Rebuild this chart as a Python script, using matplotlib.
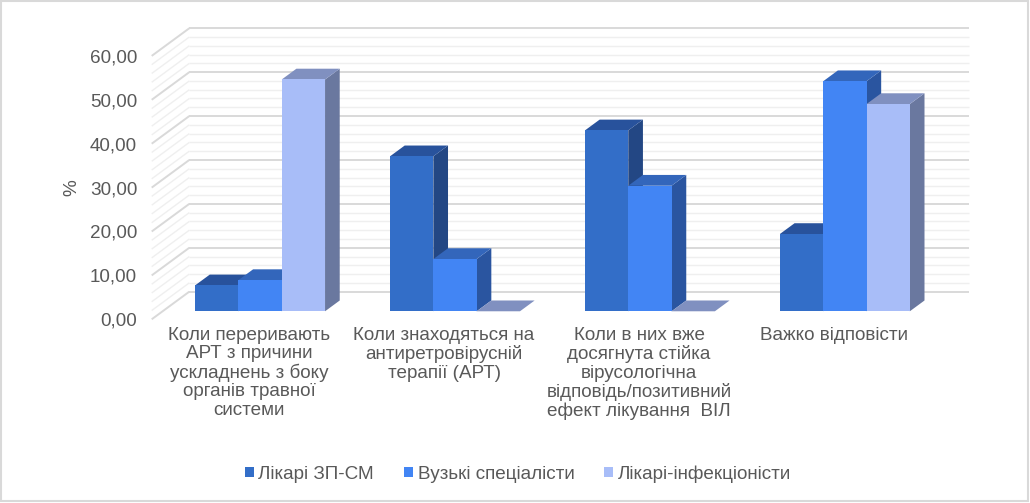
import matplotlib
matplotlib.use("Agg")
import matplotlib.pyplot as plt
from matplotlib.patches import Polygon, Rectangle, Patch

plt.rcParams['font.family'] = ['Liberation Sans', 'DejaVu Sans']

categories = [
    "Коли переривають\nАРТ з причини\nускладнень з боку\nорганів травної\nсистеми",
    "Коли знаходяться на\nантиретровірусній\nтерапії (АРТ)",
    "Коли в них вже\nдосягнута стійка\nвірусологічна\nвідповідь/позитивний\nефект лікування  ВІЛ",
    "Важко відповісти",
]
series_names = ["Лікарі ЗП-СМ", "Вузькі спеціалісти", "Лікарі-інфекціоністи"]
likari_zp = [5.9, 35.3, 41.2, 17.6]
vuzki = [7.1, 11.9, 28.6, 52.4]
infekcionisty = [52.8, 0.0, 0.0, 47.2]
y_ticks = [0, 10, 20, 30, 40, 50, 60]

series = [likari_zp, vuzki, infekcionisty]
front_cols = ["#336ec8", "#4285f4", "#a8bdf8"]
top_cols = ["#28529c", "#3366bb", "#8090c0"]
side_cols = ["#234784", "#2a55a0", "#6a789f"]

TXT = "#595959"
FS = 13.6

W, H = 1030, 503
fig = plt.figure(figsize=(W / 100, H / 100), dpi=100)
# axes = front edge of the floor
x0p, x1p = 151.7, 931.4
yb, yt = 319.3, 55.9
ax = fig.add_axes([x0p / W, (H - yb) / H, (x1p - x0p) / W, (yb - yt) / H])
ax.set_xlim(-0.5, len(categories) - 0.5)
ax.set_ylim(0, 60)
for s in ax.spines.values():
    s.set_visible(False)

# depth of the floor (data units) and bar depth fractions
DX, DY = 0.193, 6.3
F0, F1 = 0.29, 0.68
ymax = 60
xl, xr = -0.5, len(categories) - 0.5

# gridlines: back wall + left wall diagonals
for v in range(0, ymax + 1, 2):
    major = (v % 10 == 0)
    col = "#d9d9d9" if major else "#efefef"
    lw = 1.4 if major else 1.0
    z = 1.2 if major else 1.0
    ax.plot([xl + DX, xr + DX], [v + DY, v + DY], color=col, lw=lw,
            clip_on=False, zorder=z, solid_capstyle='butt')
    ax.plot([xl, xl + DX], [v, v + DY], color=col, lw=lw,
            clip_on=False, zorder=z, solid_capstyle='butt')

# bars
n = len(series)
w = 1.0 / (n + 1.5)
ddx, ddy = (F1 - F0) * DX, (F1 - F0) * DY
base = F0 * DY
z = 3
for i in range(len(categories)):
    for j in range(n):
        v = series[j][i]
        x = i - n * w / 2 + j * w + F0 * DX
        side = Polygon([(x + w, base), (x + w + ddx, base + ddy),
                        (x + w + ddx, base + v + ddy), (x + w, base + v)],
                       closed=True, facecolor=side_cols[j], lw=0,
                       clip_on=False, zorder=z)
        top = Polygon([(x, base + v), (x + w, base + v),
                       (x + w + ddx, base + v + ddy), (x + ddx, base + v + ddy)],
                      closed=True, facecolor=top_cols[j], lw=0,
                      clip_on=False, zorder=z + 0.1)
        ax.add_patch(side)
        ax.add_patch(top)
        bars = ax.bar(x, v, width=w, bottom=base, align='edge',
                      color=front_cols[j], lw=0, zorder=z + 0.2)
        for b in bars:
            b.set_clip_on(False)
        z += 1

# ticks
ax.set_yticks(y_ticks)
ax.set_yticklabels([f"{t:.2f}".replace(".", ",") for t in y_ticks])
ax.tick_params(axis='y', length=0, pad=10.5, labelsize=FS, labelcolor=TXT)
ax.set_xticks(range(len(categories)))
ax.set_xticklabels(categories)
ax.tick_params(axis='x', length=0, pad=5.5, labelsize=FS, labelcolor=TXT)
for t in ax.get_xticklabels():
    t.set_linespacing(1.1)
ax.set_ylabel("%", fontsize=FS, color=TXT, labelpad=10)
ax.yaxis.set_label_coords((80 - x0p) / (x1p - x0p), (yb - 188) / (yb - yt))

# legend
handles = [Patch(facecolor=c, edgecolor='none', label=nm)
           for c, nm in zip(front_cols, series_names)]
fig.legend(handles=handles, loc='center', bbox_to_anchor=(0.503, (H - 474) / H),
           ncol=3, frameon=False, fontsize=FS, labelcolor=TXT,
           handlelength=0.45, handleheight=0.45, handletextpad=0.25,
           columnspacing=1.6)

# chart border
fig.patches.append(Rectangle((1.0 / W, 2.0 / H), 1027.0 / W, 500.0 / H,
                             transform=fig.transFigure, fill=False,
                             edgecolor="#d9d9d9", lw=1.5))

fig.savefig("out.png", dpi=100)
